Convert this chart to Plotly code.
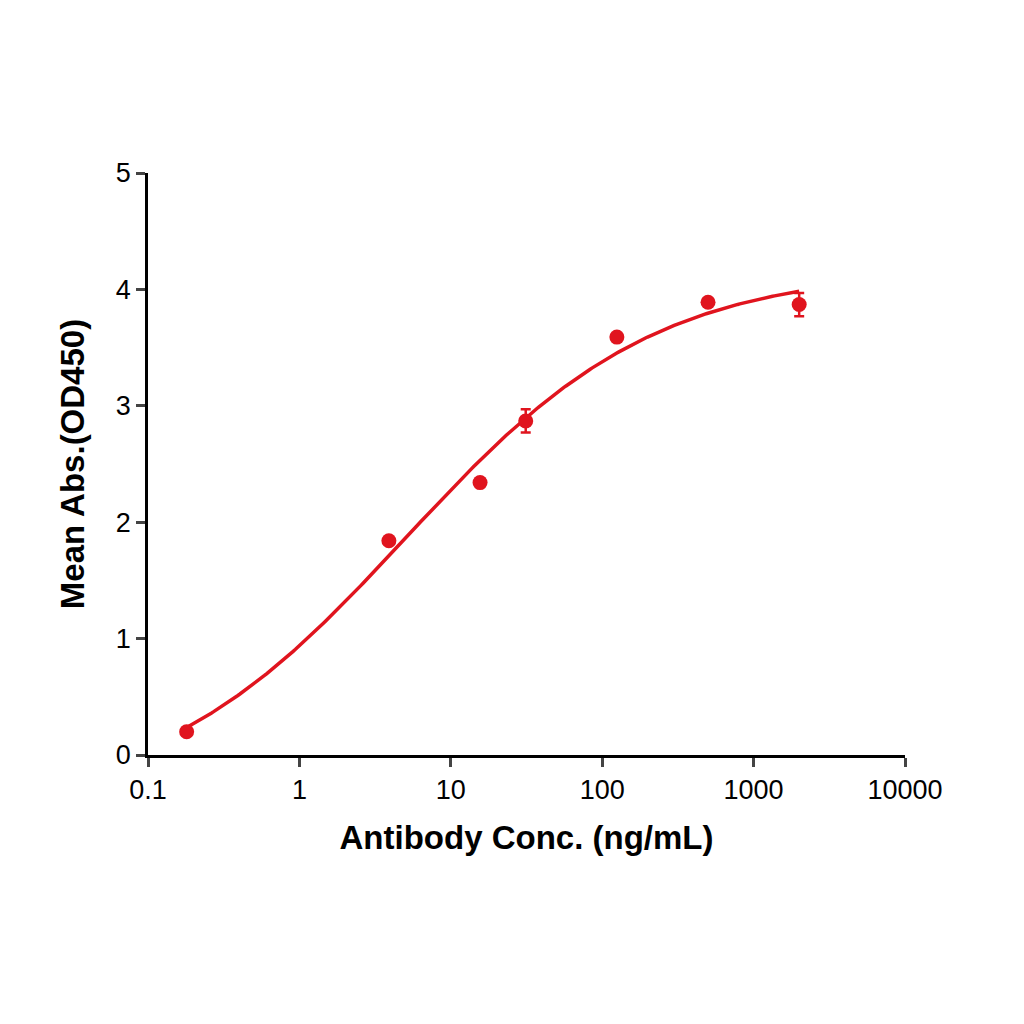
import numpy as np
import plotly.graph_objects as go

conc = [0.18, 3.9, 15.6, 31.25, 125, 500, 2000]
od = [0.20, 1.84, 2.34, 2.87, 3.59, 3.89, 3.87]
err = [0.0, 0.0, 0.0, 0.10, 0.0, 0.0, 0.10]

# least-squares 4PL fit of the data (grid search)
lx = np.log10(conc)
y = np.array(od)
best = None
for A in np.linspace(-0.6, 0.2, 17):
    for D in np.linspace(3.8, 4.6, 33):
        for lc in np.linspace(0.0, 1.6, 33):
            for B in np.linspace(0.4, 1.2, 33):
                p = A + (D - A) / (1 + 10 ** (B * (lc - lx)))
                s = np.sum((p - y) ** 2)
                if best is None or s < best[0]:
                    best = (s, A, D, lc, B)
_, fA, fD, flc, fB = best

red = "#E0141E"
lxs = np.linspace(lx[0], lx[-1], 300)
xs = 10 ** lxs
ys = fA + (fD - fA) / (1 + 10 ** (fB * (flc - lxs)))

fig = go.Figure()
fig.add_trace(go.Scatter(x=xs, y=ys, mode="lines", line=dict(color=red, width=3.5), showlegend=False))
fig.add_trace(go.Scatter(x=conc, y=od, mode="markers",
                         marker=dict(color=red, size=15),
                         error_y=dict(type="data", array=err, color=red, thickness=2.5, width=5),
                         showlegend=False))
font = "Liberation Sans, Arial, sans-serif"
fig.update_layout(
    width=1024, height=1024, plot_bgcolor="white", paper_bgcolor="white",
    margin=dict(l=140, r=127, t=165, b=277),
    font=dict(family=font, color="black"),
    xaxis=dict(type="log", range=[-1, 4], showgrid=False, zeroline=False,
               showline=True, linecolor="black", linewidth=2.5,
               ticks="outside", ticklen=9, tickwidth=2.5,
               tickvals=[0.1, 1, 10, 100, 1000, 10000],
               ticktext=["0.1", "1", "10", "100", "1000", "10000"],
               tickfont=dict(size=27),
               title=dict(text="<b>Antibody Conc. (ng/mL)</b>", font=dict(size=33), standoff=22)),
    yaxis=dict(range=[0, 5], showgrid=False, zeroline=False,
               showline=True, linecolor="black", linewidth=2.5,
               ticks="outside", ticklen=9, tickwidth=2.5,
               tickvals=[0, 1, 2, 3, 4, 5], tickfont=dict(size=27),
               title=dict(text="<b>Mean Abs.(OD450)</b>", font=dict(size=33), standoff=22)),
)
fig.write_html("out.html")
